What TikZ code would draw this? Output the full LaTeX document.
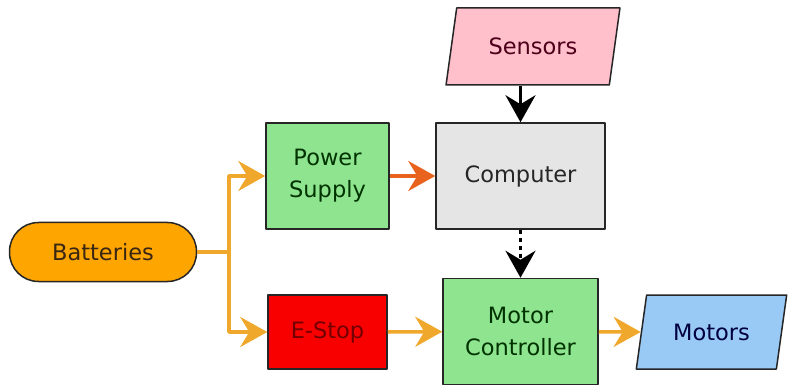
\documentclass[tikz,border=0pt]{standalone}
\usepackage{fontspec}
\setmainfont{DejaVu Sans}
\usetikzlibrary{arrows.meta,shapes.geometric}
\definecolor{batfill}{HTML}{FFA500}
\definecolor{grnfill}{HTML}{8FE48F}
\definecolor{redfill}{HTML}{F80000}
\definecolor{grayfill}{HTML}{E5E5E5}
\definecolor{pinkfill}{HTML}{FFC0CB}
\definecolor{bluefill}{HTML}{99C9F5}
\definecolor{powline}{HTML}{F0A82C}
\definecolor{psline}{HTML}{E8641E}
\begin{document}
\begin{tikzpicture}[x=1pt,y=-1pt,line join=round,font=\fontsize{22.5}{32}\selectfont,
	box/.style={draw=black!85,line width=1.5pt,align=center,inner sep=0pt},
	para/.style={box,trapezium,trapezium left angle=70,trapezium right angle=110,trapezium stretches=true},
	flow/.style={line width=3.5pt,-{Stealth[length=27pt,width=30pt,inset=9pt]}}]
	\useasboundingbox (0,0) rectangle (788,385);
	\node[box,fill=batfill,text=black!70!brown,rounded corners=29pt,minimum width=187pt,minimum height=59pt] (bat) at (103,252) {Batteries};
	\node[box,fill=grnfill,text=green!20!black,minimum width=123pt,minimum height=106pt] (ps) at (327.5,176) {Power\\Supply};
	\node[box,fill=redfill,text=red!45!black,minimum width=119pt,minimum height=74pt] (es) at (327.5,332) {E-Stop};
	\node[box,fill=grayfill,text=black!85,minimum width=169pt,minimum height=106pt] (comp) at (520.5,176) {Computer};
	\node[box,fill=grnfill,text=green!20!black,minimum width=155pt,minimum height=106pt] (mc) at (520.5,331.5) {Motor\\Controller};
	\node[para,fill=pinkfill,text=purple!40!black,minimum width=174pt,minimum height=77pt] (sens) at (533,46.5) {Sensors};
	\node[para,fill=bluefill,text=blue!25!black,minimum width=151pt,minimum height=74pt] (mot) at (711.5,332) {Motors};
	\coordinate (br) at (229,252);
	\draw[powline,line width=3.5pt] (bat.east)--(br);
	\foreach \t in {ps,es}\draw[flow,powline] (br)|-(\t.west);
	\draw[flow,powline] (es)--(mc);
	\draw[flow,powline] (mc)--(mot.west);
	\draw[flow,psline] (ps)--(comp);
	\draw[flow,black] (comp.north|-sens.south)--(comp.north);
	\draw[flow,black,dash pattern=on 4pt off 4pt] (comp)--(mc);
\end{tikzpicture}
\end{document}
